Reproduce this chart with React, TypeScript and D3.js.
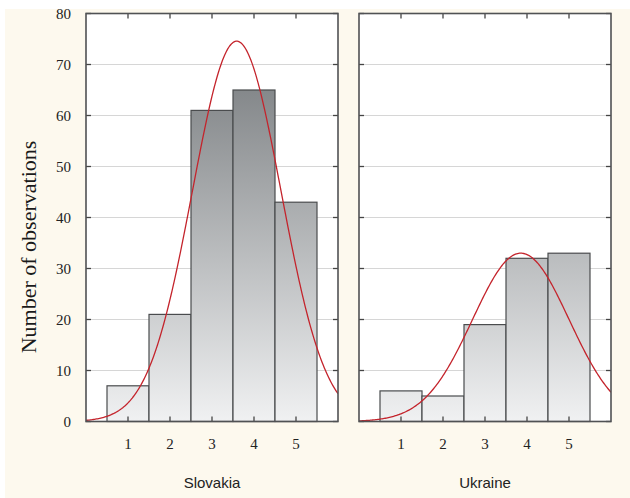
import React from "react";
import * as d3 from "d3";

const binCenters = [1, 2, 3, 4, 5];
const slovakiaCounts = [7, 21, 61, 65, 43];
const ukraineCounts = [6, 5, 19, 32, 33];
const panelNames = ["Slovakia", "Ukraine"];
const yTicks = [0, 10, 20, 30, 40, 50, 60, 70, 80];
const xTicks = [1, 2, 3, 4, 5];

const W = 630;
const H = 498;
const top = 13.5;
const bottom = 421.5;
const panelX = [
  [86, 338],
  [359, 611],
];

function fitCurve(counts: number[]) {
  const n = d3.sum(counts);
  const mean = d3.sum(counts.map((c, i) => c * binCenters[i])) / n;
  const v =
    d3.sum(counts.map((c, i) => c * (binCenters[i] - mean) ** 2)) / (n - 1);
  const sd = Math.sqrt(v);
  const pts: [number, number][] = [];
  for (let k = 0; k <= 240; k++) {
    const x = (k / 240) * 6;
    const y =
      (n / (sd * Math.sqrt(2 * Math.PI))) *
      Math.exp(-((x - mean) ** 2) / (2 * sd * sd));
    pts.push([x, y]);
  }
  return pts;
}

function Panel({ idx, counts }: { idx: number; counts: number[] }) {
  const [x0, x1] = panelX[idx];
  const x = d3.scaleLinear().domain([0, 6]).range([x0, x1]);
  const y = d3.scaleLinear().domain([0, 80]).range([bottom, top]);
  const line = d3
    .line<[number, number]>()
    .x((d) => x(d[0]))
    .y((d) => y(d[1]))
    .curve(d3.curveLinear);
  const curve = fitCurve(counts);
  const clipId = `clip${idx}`;
  const tl = 5;
  return (
    <g>
      <defs>
        <clipPath id={clipId}>
          <rect x={x0} y={top} width={x1 - x0} height={bottom - top} />
        </clipPath>
      </defs>
      <rect x={x0} y={top} width={x1 - x0} height={bottom - top} fill="#ffffff" />
      {yTicks
        .filter((t) => t > 0 && t < 80)
        .map((t) => (
          <line
            key={t}
            x1={x0}
            x2={x1}
            y1={y(t)}
            y2={y(t)}
            stroke="#d6d6d6"
            strokeWidth={1}
          />
        ))}
      {counts.map((c, i) => (
        <rect
          key={i}
          x={x(binCenters[i] - 0.5)}
          y={y(c)}
          width={x(binCenters[i] + 0.5) - x(binCenters[i] - 0.5)}
          height={bottom - y(c)}
          fill="url(#barGrad)"
          stroke="#4a4c4e"
          strokeWidth={1.2}
        />
      ))}
      <path
        d={line(curve) || ""}
        fill="none"
        stroke="#c4242c"
        strokeWidth={1.3}
        clipPath={`url(#${clipId})`}
      />
      {xTicks.map((t) => (
        <g key={t}>
          <line x1={x(t)} x2={x(t)} y1={top} y2={top + tl} stroke="#444" strokeWidth={1.3} />
          <line x1={x(t)} x2={x(t)} y1={bottom} y2={bottom - tl} stroke="#444" strokeWidth={1.3} />
          <text
            x={x(t)}
            y={449}
            textAnchor="middle"
            fontFamily="Liberation Serif, Times New Roman, serif"
            fontSize={15}
            fill="#222"
          >
            {t}
          </text>
        </g>
      ))}
      {yTicks.map((t) => (
        <g key={t}>
          <line x1={x0} x2={x0 + tl} y1={y(t)} y2={y(t)} stroke="#444" strokeWidth={1.3} />
          <line x1={x1} x2={x1 - tl} y1={y(t)} y2={y(t)} stroke="#444" strokeWidth={1.3} />
        </g>
      ))}
      <rect
        x={x0}
        y={top}
        width={x1 - x0}
        height={bottom - top}
        fill="none"
        stroke="#505254"
        strokeWidth={1.6}
      />
      <text
        x={(x0 + x1) / 2}
        y={488}
        textAnchor="middle"
        fontFamily="Liberation Sans, Arial, sans-serif"
        fontSize={15}
        fill="#222"
      >
        {panelNames[idx]}
      </text>
    </g>
  );
}

export default function App() {
  const y = d3.scaleLinear().domain([0, 80]).range([bottom, top]);
  return (
    <svg width={W} height={H} style={{ display: "block", position: "absolute", left: 0, top: 0 }}>
      <defs>
        <linearGradient id="barGrad" gradientUnits="userSpaceOnUse" x1={0} y1={top} x2={0} y2={bottom}>
          <stop offset="0" stopColor="#6c7073" />
          <stop offset="1" stopColor="#f0f1f2" />
        </linearGradient>
      </defs>
      <rect x={0} y={0} width={W} height={H} fill="#fdf9ee" />
      {yTicks.map((t) => (
        <text
          key={t}
          x={71}
          y={y(t) + 5.5}
          textAnchor="end"
          fontFamily="Liberation Serif, Times New Roman, serif"
          fontSize={15}
          fill="#222"
        >
          {t}
        </text>
      ))}
      <text
        transform="translate(36,247) rotate(-90)"
        textAnchor="middle"
        fontFamily="Liberation Serif, Times New Roman, serif"
        fontSize={22}
        fill="#1a1a1a"
      >
        Number of observations
      </text>
      <Panel idx={0} counts={slovakiaCounts} />
      <Panel idx={1} counts={ukraineCounts} />
      <rect x={0} y={0} width={W} height={9} fill="#ffffff" />
      <rect x={0} y={0} width={5} height={H} fill="#ffffff" />
    </svg>
  );
}
